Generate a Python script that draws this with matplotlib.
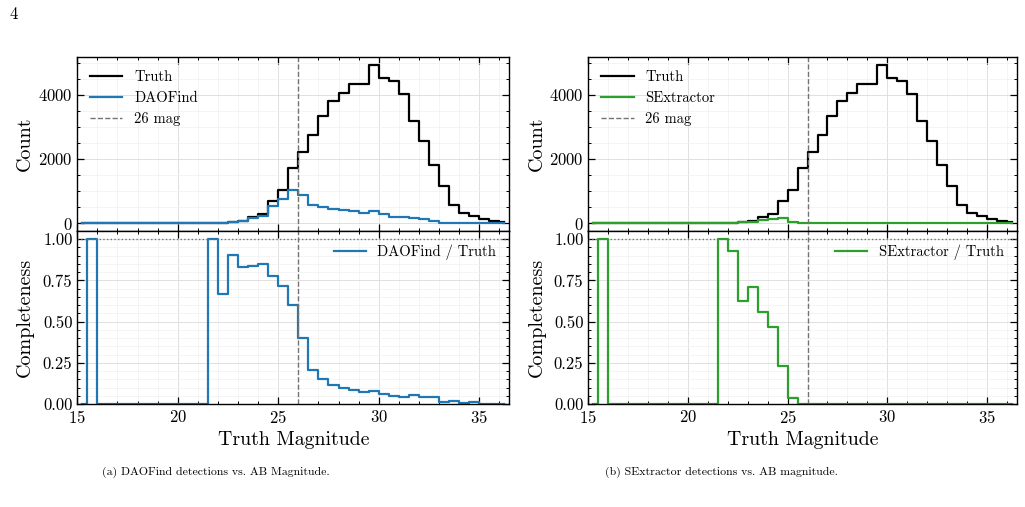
import numpy as np
import matplotlib
matplotlib.use('Agg')
import matplotlib.pyplot as plt
from matplotlib.ticker import MultipleLocator

plt.rcParams['font.family'] = 'serif'
plt.rcParams['font.serif'] = ['cmr10', 'DejaVu Serif']
plt.rcParams['mathtext.fontset'] = 'cm'
plt.rcParams['axes.formatter.use_mathtext'] = True

# 0.5 mag bins, 15.0 -> 36.5 (bin centres)
mag_centres = np.arange(15.25, 36.5, 0.5)

truth_counts = [0, 1, 0, 0, 0, 0, 0, 0, 0, 0, 0, 0, 0, 3, 15, 40, 60, 190, 270, 680,
                1030, 1710, 2210, 2750, 3350, 3800, 4050, 4330, 4340, 4920, 4520,
                4440, 4020, 3190, 2570, 1820, 1150, 570, 300, 230, 115, 50, 30]
dao_counts = [0, 1, 0, 0, 0, 0, 0, 0, 0, 0, 0, 0, 0, 3, 10, 36, 50, 160, 230, 530,
              740, 1030, 885, 570, 500, 430, 395, 370, 300, 375, 285,
              205, 180, 165, 112, 75, 16, 12, 2, 2, 0, 0, 0]
sex_counts = [0, 1, 0, 0, 0, 0, 0, 0, 0, 0, 0, 0, 0, 3, 14, 25, 43, 106, 127, 156,
              40, 0, 0, 0, 0, 0, 0, 0, 0, 0, 0,
              0, 0, 0, 0, 0, 0, 0, 0, 0, 0, 0, 0]
dao_compl = [0, 1.0, 0, 0, 0, 0, 0, 0, 0, 0, 0, 0, 0, 1.0, 0.665, 0.905, 0.833, 0.839,
             0.849, 0.776, 0.716, 0.603, 0.399, 0.206, 0.149, 0.115, 0.099, 0.087,
             0.071, 0.077, 0.063, 0.046, 0.044, 0.054, 0.044, 0.042, 0.014, 0.020,
             0.006, 0.010, 0, 0, 0]
sex_compl = [0, 1.0, 0, 0, 0, 0, 0, 0, 0, 0, 0, 0, 0, 1.0, 0.93, 0.623, 0.708, 0.558,
             0.47, 0.232, 0.038, 0, 0, 0, 0, 0, 0, 0, 0, 0, 0,
             0, 0, 0, 0, 0, 0, 0, 0, 0, 0, 0, 0]

cut_mag = 26

panels = [
    ('DAOFind', dao_counts, dao_compl, '#1f77b4', 0.0754, 0.4215),
    ('SExtractor', sex_counts, sex_compl, '#2ca02c', 0.574, 0.418),
]
captions = ['(a) DAOFind detections vs. AB Magnitude.',
            '(b) SExtractor detections vs. AB magnitude.']
caption_x = [102, 605]


def style_axis(ax):
    ax.tick_params(which='both', direction='in', top=True, right=True, labelsize=12)
    ax.tick_params(which='major', length=5, width=0.9)
    ax.tick_params(which='minor', length=2.5, width=0.7)
    ax.grid(True, which='major', color='0.86', lw=0.6)
    ax.grid(True, which='minor', color='0.94', lw=0.5)
    ax.set_axisbelow(True)
    for s in ax.spines.values():
        s.set_linewidth(1.0)


fig = plt.figure(figsize=(10.25, 5.07), dpi=100)

for (name, det, comp, col, x0, w), cap, cx in zip(panels, captions, caption_x):
    ax1 = fig.add_axes([x0, 0.5444, w, 0.3426])
    ax2 = fig.add_axes([x0, 0.2032, w, 0.3412], sharex=ax1)

    ax1.step(mag_centres, truth_counts, where='mid', color='k', lw=1.6, label='Truth')
    ax1.step(mag_centres, det, where='mid', color=col, lw=1.6, label=name)
    ax1.axvline(cut_mag, color='0.45', ls='--', lw=1.0, label='26 mag')
    ax1.set_ylabel('Count', fontsize=14.5)
    ax1.yaxis.set_major_locator(MultipleLocator(2000))
    ax1.yaxis.set_minor_locator(MultipleLocator(500))
    ax1.legend(loc='upper left', frameon=False, fontsize=10.5, handlelength=2.2)
    style_axis(ax1)
    plt.setp(ax1.get_xticklabels(), visible=False)

    ax2.step(mag_centres, comp, where='mid', color=col, lw=1.6, label=name + ' / Truth')
    ax2.axhline(1.0, color='0.45', ls=':', lw=1.0)
    ax2.axvline(cut_mag, color='0.45', ls='--', lw=1.0)
    ax2.set_ylim(0, 1.05)
    ax2.set_xlim(15, 36.5)
    ax2.yaxis.set_major_locator(MultipleLocator(0.25))
    ax2.yaxis.set_minor_locator(MultipleLocator(0.05))
    ax2.xaxis.set_major_locator(MultipleLocator(5))
    ax2.xaxis.set_minor_locator(MultipleLocator(1))
    ax2.yaxis.set_major_formatter(matplotlib.ticker.FormatStrFormatter('%.2f'))
    ax2.set_ylabel('Completeness', fontsize=14.5)
    ax2.set_xlabel('Truth Magnitude', fontsize=14.3)
    ax2.legend(loc='upper right', frameon=False, fontsize=10.5, handlelength=2.2)
    style_axis(ax2)

    ax1.yaxis.set_label_coords(-0.10, 0.5)
    ax2.yaxis.set_label_coords(-0.10, 0.5)

    fig.text(cx / 1025, 1 - 472 / 507, cap, fontsize=8.5, ha='left', va='center')

fig.text(10 / 1025, 1 - 14 / 507, '4', fontsize=12, ha='left', va='center')

fig.savefig('out.png', dpi=100)
